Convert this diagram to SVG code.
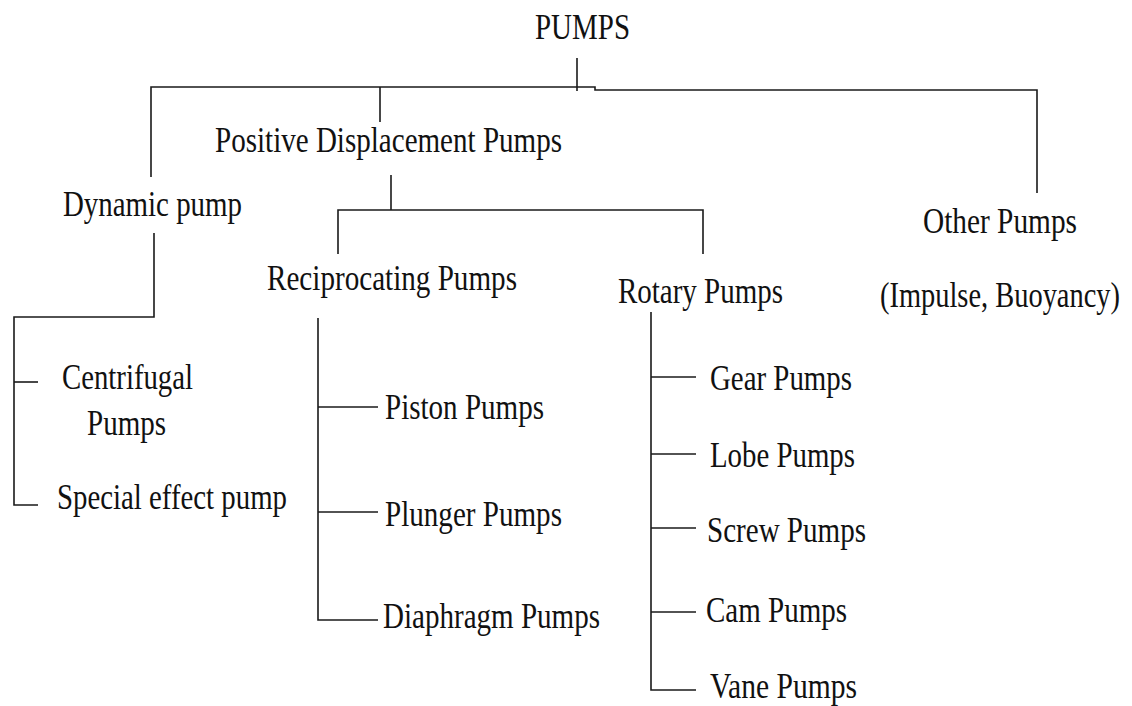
<svg xmlns="http://www.w3.org/2000/svg" width="1132" height="706" viewBox="0 0 1132 706">
<style>
text{font-family:"Liberation Serif","Times New Roman",serif;font-size:35px;fill:#111;}
.c{fill:none;stroke:#1a1a1a;stroke-width:1.6;}
</style>
<rect width="1132" height="706" fill="#fff"/>
<g id="connectors" class="c">
<path d="M577,58 V91"/>
<path d="M151,177 V87 H595 V90 H1037 V193"/>
<path d="M380,87 V122"/>
<path d="M391,175 V210"/>
<path d="M338,254 V210 H703 V254"/>
<path d="M154,233 V317 H14 V505 H38"/>
<path d="M14,382 H38"/>
<path d="M318,318 V620 H378"/>
<path d="M318,407 H378"/>
<path d="M318,512 H378"/>
<path d="M651,312 V690 H696"/>
<path d="M651,377 H696"/>
<path d="M651,454 H696"/>
<path d="M651,528 H696"/>
<path d="M651,612 H696"/>
</g>
<g id="pumps"><text x="535" y="39" textLength="95" lengthAdjust="spacingAndGlyphs">PUMPS</text></g>
<g id="positive-displacement"><text x="215" y="152" textLength="347" lengthAdjust="spacingAndGlyphs">Positive Displacement Pumps</text></g>
<g id="dynamic"><text x="63" y="216" textLength="179" lengthAdjust="spacingAndGlyphs">Dynamic pump</text></g>
<g id="other"><text x="923" y="233" textLength="154" lengthAdjust="spacingAndGlyphs">Other Pumps</text>
<text x="880" y="307" textLength="240" lengthAdjust="spacingAndGlyphs">(Impulse, Buoyancy)</text></g>
<g id="reciprocating"><text x="267" y="290" textLength="250" lengthAdjust="spacingAndGlyphs">Reciprocating Pumps</text></g>
<g id="rotary"><text x="618" y="303" textLength="165" lengthAdjust="spacingAndGlyphs">Rotary Pumps</text></g>
<g id="centrifugal"><text x="62" y="389" textLength="131" lengthAdjust="spacingAndGlyphs">Centrifugal</text>
<text x="87" y="435" textLength="79" lengthAdjust="spacingAndGlyphs">Pumps</text></g>
<g id="special"><text x="57" y="509" textLength="230" lengthAdjust="spacingAndGlyphs">Special effect pump</text></g>
<g id="piston"><text x="385" y="419" textLength="159" lengthAdjust="spacingAndGlyphs">Piston Pumps</text></g>
<g id="plunger"><text x="385" y="526" textLength="177" lengthAdjust="spacingAndGlyphs">Plunger Pumps</text></g>
<g id="diaphragm"><text x="383" y="628" textLength="217" lengthAdjust="spacingAndGlyphs">Diaphragm Pumps</text></g>
<g id="gear"><text x="710" y="390" textLength="142" lengthAdjust="spacingAndGlyphs">Gear Pumps</text></g>
<g id="lobe"><text x="710" y="467" textLength="145" lengthAdjust="spacingAndGlyphs">Lobe Pumps</text></g>
<g id="screw"><text x="707" y="542" textLength="159" lengthAdjust="spacingAndGlyphs">Screw Pumps</text></g>
<g id="cam"><text x="706" y="622" textLength="141" lengthAdjust="spacingAndGlyphs">Cam Pumps</text></g>
<g id="vane"><text x="710" y="698" textLength="147" lengthAdjust="spacingAndGlyphs">Vane Pumps</text></g>
</svg>
